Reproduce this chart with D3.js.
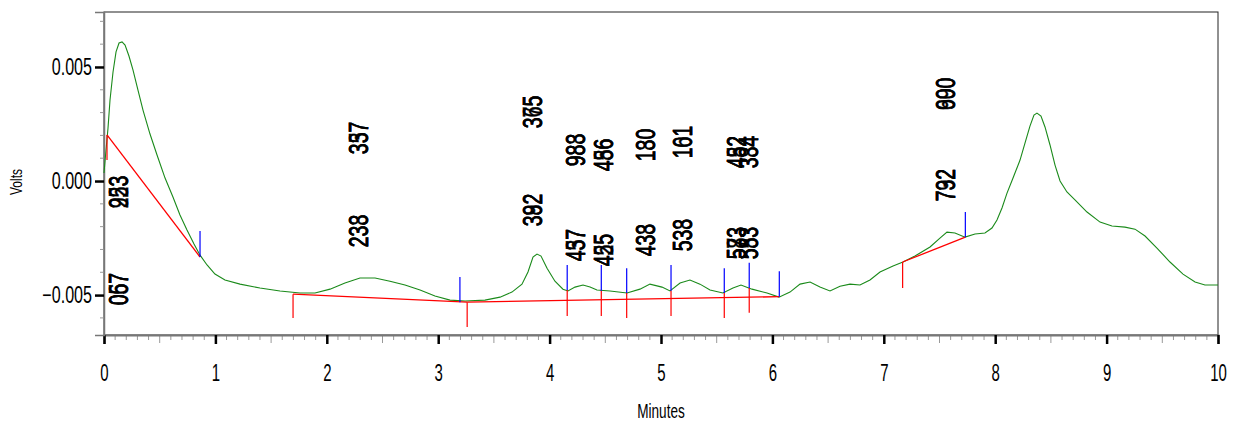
<!DOCTYPE html>
<html><head><meta charset="utf-8">
<script src="https://cdn.jsdelivr.net/npm/d3@7"></script>
<style>
html,body{margin:0;padding:0;background:#fff;}
text{font-family:"Liberation Sans",Arial,sans-serif;}
</style>
</head><body>
<svg id="c" width="1236" height="422"></svg>
<script>
// ---- data ----
const timeMin = [0.000,0.018,0.036,0.054,0.081,0.108,0.135,0.162,0.189,0.224,0.260,0.305,0.350,0.413,0.476,0.548,0.619,0.682,0.745,0.808,0.862,0.925,0.996,1.086,1.221,1.400,1.580,1.759,1.894,2.029,2.163,2.298,2.433,2.567,2.702,2.837,2.971,3.106,3.241,3.420,3.555,3.662,3.752,3.806,3.851,3.887,3.923,3.977,4.048,4.120,4.165,4.228,4.300,4.363,4.425,4.542,4.695,4.811,4.901,5.009,5.081,5.171,5.260,5.350,5.440,5.556,5.646,5.718,5.817,5.952,6.059,6.158,6.248,6.338,6.427,6.517,6.607,6.697,6.786,6.876,6.966,7.083,7.172,7.280,7.415,7.504,7.567,7.639,7.729,7.819,7.908,7.971,8.016,8.061,8.106,8.160,8.223,8.268,8.312,8.348,8.375,8.411,8.447,8.492,8.537,8.582,8.644,8.716,8.824,8.941,9.048,9.165,9.255,9.345,9.452,9.569,9.686,9.794,9.883,10.0];
const signalVolts = [0.00035,0.00136,0.00232,0.00355,0.00478,0.00566,0.00605,0.00610,0.00596,0.00548,0.00487,0.00399,0.00311,0.00206,0.00114,0.00013,-0.00070,-0.00149,-0.00215,-0.00276,-0.00325,-0.00368,-0.00408,-0.00434,-0.00452,-0.00469,-0.00482,-0.00491,-0.00491,-0.00474,-0.00447,-0.00425,-0.00425,-0.00439,-0.00456,-0.00478,-0.00504,-0.00522,-0.00526,-0.00522,-0.00509,-0.00487,-0.00452,-0.00399,-0.00333,-0.00320,-0.00329,-0.00382,-0.00439,-0.00474,-0.00482,-0.00465,-0.00456,-0.00465,-0.00478,-0.00482,-0.00491,-0.00474,-0.00452,-0.00465,-0.00482,-0.00447,-0.00434,-0.00452,-0.00478,-0.00491,-0.00469,-0.00456,-0.00474,-0.00491,-0.00509,-0.00487,-0.00452,-0.00443,-0.00465,-0.00482,-0.00461,-0.00452,-0.00456,-0.00434,-0.00399,-0.00373,-0.00355,-0.00329,-0.00289,-0.00250,-0.00224,-0.00228,-0.00246,-0.00232,-0.00228,-0.00206,-0.00171,-0.00118,-0.00053,0.00013,0.00092,0.00167,0.00241,0.00289,0.00298,0.00285,0.00237,0.00158,0.00070,0.00000,-0.00048,-0.00083,-0.00136,-0.00180,-0.00197,-0.00202,-0.00211,-0.00241,-0.00294,-0.00355,-0.00408,-0.00443,-0.00456,-0.00456];

// baseline segments: [startTime, startV, endTime, endV]
const baselineSegments = [
  [0.027, 0.00202, 0.862, -0.00333],
  [1.697, -0.00496, 3.260, -0.00531],
  [3.260, -0.00531, 6.062, -0.00507],
  [7.169, -0.00355, 7.732, -0.00246]
];
// peak start/end markers: [time, vTop, vBottom]
const redMarks = [
  [0.027, 0.00202, 0.00092],[1.697,-0.00496,-0.00601],[3.260,-0.00531,-0.00640],
  [4.158,-0.00478,-0.00592],[4.464,-0.00481,-0.00592],[4.692,-0.00491,-0.00601],
  [5.090,-0.00481,-0.00592],[5.568,-0.00491,-0.00601],[5.792,-0.00469,-0.00578],
  [7.169,-0.00355,-0.00469]
];
const blueMarks = [
  [0.862,-0.00219,-0.00333],[3.195,-0.00421,-0.00531],[4.158,-0.00368,-0.00478],
  [4.464,-0.00368,-0.00481],[4.692,-0.00382,-0.00491],[5.090,-0.00368,-0.00481],
  [5.568,-0.00382,-0.00491],[5.792,-0.00358,-0.00469],[6.062,-0.00395,-0.00507],
  [7.732,-0.00136,-0.00246]
];
// peak labels (overlapping texts)
const labelTime  = [0.126,0.126,2.28,2.28,3.84,3.84,4.23,4.23,4.48,4.48,4.86,4.86,5.19,5.19,5.68,5.78,5.68,5.78,7.55,7.55];
const labelLevel = [-0.00048,-0.00474,0.00189,-0.00219,0.00303,-0.00127,0.00136,-0.00281,0.00114,-0.00303,0.00158,-0.00259,0.00171,-0.00237,0.00127,0.00127,-0.00272,-0.00272,0.00382,-0.00018];
const labelText  = [["923","253"],["067","057"],["337","357"],["233","238"],["375","365"],["392","382"],["983","988"],["437","457"],["486","456"],["425","455"],["130","180"],["433","438"],["101","161"],["538","533"],["452","482"],["384","334"],["573","583"],["583","553"],["690","900"],["732","792"]];

const xMajorTicks = [0,1,2,3,4,5,6,7,8,9,10];
const yMajorTicks = [-0.005,0.000,0.005];
const yLabelText = "Volts";
const xLabelText = "Minutes";

// ---- chart ----
const svg = d3.select("#c");
const L=104, R=1218, T=12, B=335;
const x = d3.scaleLinear().domain([0,10]).range([L,R]);
const y = d3.scaleLinear().domain([-0.00675,0.00741]).range([B,T]);

function squeeze(sel, f){
  sel.each(function(){
    const w = this.getComputedTextLength();
    d3.select(this).attr("textLength", w*f).attr("lengthAdjust","spacingAndGlyphs");
  });
}

// frame
svg.append("rect").attr("x",L).attr("y",T).attr("width",R-L).attr("height",B-T)
  .attr("fill","none").attr("stroke","#222").attr("stroke-width",1);

// minor x ticks
const xMinor = d3.range(0,101).map(i=>i/10).filter(v=>Math.abs(v-Math.round(v))>1e-6);
svg.append("g").selectAll("line").data(xMinor).join("line")
  .attr("x1",d=>x(d)).attr("x2",d=>x(d)).attr("y1",B)
  .attr("y2",d=>Math.abs(d*2-Math.round(d*2))<1e-6 ? B+8 : B+5)
  .attr("stroke","#999").attr("stroke-width",1);
// x axis
const xAxis = d3.axisBottom(x).tickValues(xMajorTicks).tickSize(9).tickPadding(21).tickFormat(d3.format("d"));
const gx = svg.append("g").attr("transform",`translate(0,${B})`).call(xAxis);
gx.select(".domain").attr("stroke","#777").attr("stroke-width",2);
gx.selectAll(".tick line").attr("stroke","#000").attr("stroke-width",2.5);
gx.selectAll(".tick text").attr("font-size",23).attr("fill","#000").call(squeeze,0.65);

// minor y ticks
const yMinor = d3.range(-6,8).map(i=>i/1000).filter(v=>Math.abs(v*200-Math.round(v*200))>1e-6);
svg.append("g").selectAll("line").data(yMinor).join("line")
  .attr("x1",L-4).attr("x2",L).attr("y1",d=>y(d)).attr("y2",d=>y(d))
  .attr("stroke","#999").attr("stroke-width",1);
const yAxis = d3.axisLeft(y).tickValues(yMajorTicks).tickSize(9).tickPadding(3).tickFormat(d3.format(".3f"));
const gy = svg.append("g").attr("transform",`translate(${L},0)`).call(yAxis);
gy.select(".domain").attr("stroke","#777").attr("stroke-width",1.5);
gy.selectAll(".tick line").attr("stroke","#000").attr("stroke-width",2.5);
gy.selectAll(".tick text").attr("font-size",23).attr("fill","#000").call(squeeze,0.7);

// axis titles
svg.append("text").attr("x",661).attr("y",418).attr("text-anchor","middle")
  .attr("font-size",20).text(xLabelText).call(squeeze,0.68);
svg.append("text").attr("transform","translate(22,182) rotate(-90)").attr("text-anchor","middle")
  .attr("font-size",16).attr("textLength",26).attr("lengthAdjust","spacingAndGlyphs").text(yLabelText);

// trace
const pts = timeMin.map((t,i)=>[t,signalVolts[i]]);
svg.append("path").datum(pts)
  .attr("d", d3.line().x(d=>x(d[0])).y(d=>y(d[1])))
  .attr("fill","none").attr("stroke","#1a8a1a").attr("stroke-width",1.1);

// baselines
svg.append("g").selectAll("line").data(baselineSegments).join("line")
  .attr("x1",d=>x(d[0])).attr("y1",d=>y(d[1])).attr("x2",d=>x(d[2])).attr("y2",d=>y(d[3]))
  .attr("stroke","#ff0000").attr("stroke-width",1.3);
svg.append("g").selectAll("line").data(redMarks).join("line")
  .attr("x1",d=>x(d[0])).attr("x2",d=>x(d[0])).attr("y1",d=>y(d[1])).attr("y2",d=>y(d[2]))
  .attr("stroke","#ff0000").attr("stroke-width",1.2);
svg.append("g").selectAll("line").data(blueMarks).join("line")
  .attr("x1",d=>x(d[0])).attr("x2",d=>x(d[0])).attr("y1",d=>y(d[1])).attr("y2",d=>y(d[2]))
  .attr("stroke","#0000ff").attr("stroke-width",1.2);

// labels
const lg = svg.append("g");
labelTime.forEach((t,i)=>{
  labelText[i].forEach(s=>{
    lg.append("text")
      .attr("transform",`translate(${x(t)},${y(labelLevel[i])}) rotate(-90)`)
      .attr("text-anchor","middle").attr("dy","0.36em")
      .attr("font-size",27).attr("fill","#000")
      .attr("stroke","#000").attr("stroke-width",0.5).text(s);
  });
});
squeeze(lg.selectAll("text"),0.72);
</script>
</body></html>
